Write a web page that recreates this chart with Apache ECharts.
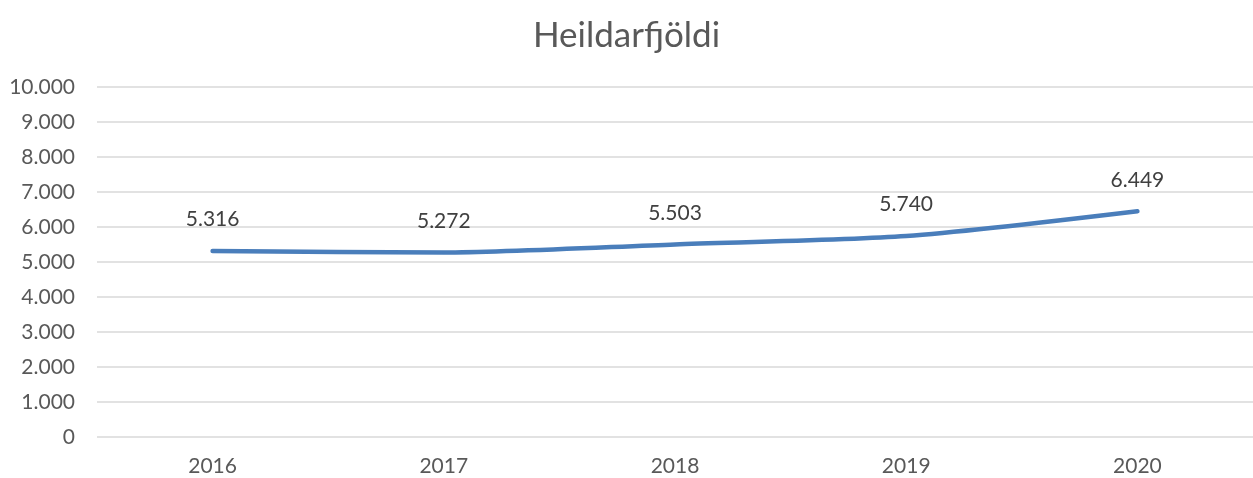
<!DOCTYPE html>
<html lang="is">
<head>
    <meta charset="UTF-8">
    <title>Heildarfjöldi</title>
    <style type="text/css">
        html, body { margin: 0; padding: 0; background: #ffffff; }
        #main { width: 1253px; height: 478px; }
    </style>
</head>
<body>
<div id="main"></div>
<script type="text/javascript" src="https://cdn.jsdelivr.net/npm/echarts@6/dist/echarts.min.js"></script>
<script type="text/javascript">
    // gögn
    var years = ['2016', '2017', '2018', '2019', '2020'];
    var totals = [5316, 5272, 5503, 5740, 6449];

    // 5316 -> 5.316
    function fmt(v) {
        return String(v).replace(/\B(?=(\d{3})+(?!\d))/g, '.');
    }

    var myChart = echarts.init(document.getElementById('main'));
    var option = {
        animation: false,
        textStyle: { fontFamily: 'Lato, "Open Sans", sans-serif' },
        title: {
            text: 'Heildarfjöldi',
            left: 'center',
            top: 13,
            textStyle: { fontSize: 35, fontWeight: 'normal', color: '#595959', fontFamily: 'Lato, sans-serif' }
        },
        grid: { left: 97, right: -10, top: 87, bottom: 41 },
        xAxis: {
            type: 'category',
            data: years,
            axisLine: { show: false },
            axisTick: { show: false },
            axisLabel: { fontSize: 21, color: '#595959', margin: 19 }
        },
        yAxis: {
            type: 'value',
            min: 0,
            max: 10000,
            interval: 1000,
            axisLabel: { fontSize: 21, color: '#595959', margin: 22, formatter: fmt },
            splitLine: { lineStyle: { color: '#d9d9d9', width: 1.5 } }
        },
        series: [{
            name: 'Heildarfjöldi',
            type: 'line',
            data: totals,
            smooth: 0.25,
            symbol: 'circle',
            symbolSize: 2,
            showSymbol: true,
            lineStyle: { color: '#4a7ebb', width: 4.5, cap: 'round' },
            itemStyle: { color: '#4a7ebb' },
            label: {
                show: true,
                position: 'top',
                distance: 20,
                fontSize: 21,
                color: '#404040',
                formatter: function (p) { return fmt(p.value); }
            }
        }]
    };
    myChart.setOption(option);
</script>
</body>
</html>
